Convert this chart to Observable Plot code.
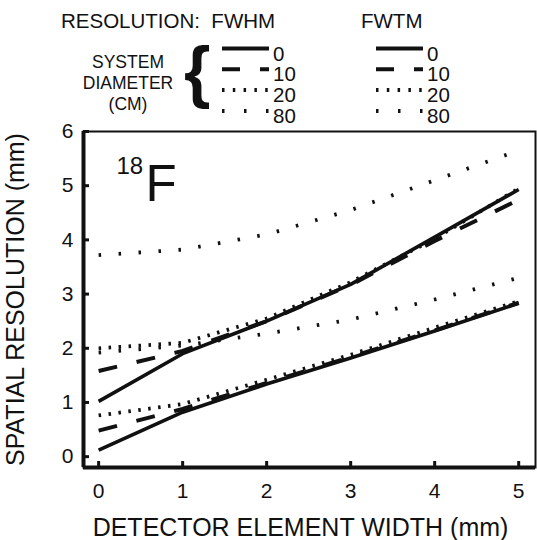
<!DOCTYPE html>
<html><head><meta charset="utf-8">
<script src="https://cdn.jsdelivr.net/npm/d3@7"></script>
<script src="https://cdn.jsdelivr.net/npm/@observablehq/plot@0.6"></script>
<style>
body{margin:0;background:#fff;}
#wrap{position:relative;width:537px;height:540px;font-family:"Liberation Sans",Arial,Helvetica,sans-serif;}
#wrap svg{position:absolute;left:0;top:0;}
</style></head><body><div id="wrap"></div>
<script>
// ---- data ----
const detectorWidth = [0, 1, 2, 3, 4, 5];
const diameterLabels = ["0", "10", "20", "80"];
const fwhm0  = [0.12, 0.82, 1.34, 1.82, 2.32, 2.83];
const fwhm10 = [0.48, 0.88, 1.36, 1.84, 2.33, 2.84];
const fwhm20 = [0.76, 0.97, 1.42, 1.88, 2.38, 2.87];
const fwhm80 = [1.92, 2.05, 2.27, 2.53, 2.90, 3.30];
const fwtm0  = [1.02, 1.90, 2.50, 3.18, 4.05, 4.93];
const fwtm10 = [1.58, 1.95, 2.50, 3.17, 3.98, 4.74];
const fwtm20 = [2.00, 2.10, 2.55, 3.22, 4.02, 4.95];
const fwtm80 = [3.72, 3.82, 4.10, 4.55, 5.10, 5.65];
const xTicks = [0, 1, 2, 3, 4, 5];
const yTicks = [0, 1, 2, 3, 4, 5, 6];
const resolutionLabels = ["FWHM", "FWTM"];
const xLabel = "DETECTOR ELEMENT WIDTH (mm)";
const yLabel = "SPATIAL RESOLUTION (mm)";

// ---- styles ----
const FONT = '"Liberation Sans", Arial, Helvetica, sans-serif';
const INK = "#111";
const W = 537, H = 540, ML = 83, MR = 2, MT = 131, MB = 73;
const plotW = W - ML - MR, plotH = H - MT - MB;
const TICK = 6;
const styleFor = {
  "0":  {dash: null, w: 3.6},
  "10": {dash: "19,20", w: 4},
  "20": {dash: "2.5,7.5", w: 3.8},
  "80": {dash: "2.5,17.5", w: 3.8}
};
const series = [
  ["FWHM", "0", fwhm0], ["FWHM", "10", fwhm10], ["FWHM", "20", fwhm20], ["FWHM", "80", fwhm80],
  ["FWTM", "0", fwtm0], ["FWTM", "10", fwtm10], ["FWTM", "20", fwtm20], ["FWTM", "80", fwtm80]
];
const xDomain = [-0.18, 5.2];
const yDomain = [-0.2, 6];
const intFmt = d3.format("d");

const lineMarks = series.map(([res, dia, vals]) =>
  Plot.line(detectorWidth.map((x, i) => ({x, y: vals[i]})), {
    x: "x", y: "y", stroke: INK,
    strokeWidth: styleFor[dia].w,
    strokeDasharray: styleFor[dia].dash || undefined,
    strokeLinecap: "butt"
  })
);

const chart = Plot.plot({
  width: W, height: H,
  marginLeft: ML, marginRight: MR, marginTop: MT, marginBottom: MB,
  style: {fontFamily: FONT, fontSize: "21px", color: INK, background: "transparent"},
  x: {domain: xDomain},
  y: {domain: yDomain},
  marks: [
    Plot.frame({stroke: INK, strokeWidth: 2}),
    Plot.ruleX([xDomain[0]], {stroke: INK, strokeWidth: 4}),
    Plot.ruleY([yDomain[0]], {stroke: INK, strokeWidth: 4}),
    Plot.axisX(xTicks, {tickSize: 0, tickPadding: 16, tickFormat: intFmt, fontSize: 21, label: xLabel, labelAnchor: "center", labelOffset: 68, labelArrow: "none"}),
    Plot.axisY(yTicks, {tickSize: 0, tickPadding: 10, tickFormat: intFmt, fontSize: 21, label: yLabel, labelAnchor: "center", labelOffset: 77, labelArrow: "none"}),
    // inward tick marks
    Plot.tickX(xTicks, {x: d => d, insetTop: plotH - TICK, stroke: INK, strokeWidth: 3}),
    Plot.tickY(yTicks, {y: d => d, insetRight: plotW - TICK, stroke: INK, strokeWidth: 3}),
    ...lineMarks,
    Plot.text(["18"], {text: d => d, frameAnchor: "top-left", textAnchor: "start", lineAnchor: "bottom", dx: 33, dy: 42, fontSize: 24, fill: INK}),
    Plot.text(["F"], {text: d => d, frameAnchor: "top-left", textAnchor: "start", lineAnchor: "bottom", dx: 62, dy: 69, fontSize: 51, fill: INK})
  ]
});
document.getElementById("wrap").appendChild(chart);

// axis label font size and small shift
d3.select(chart).selectAll("[aria-label='x-axis label'] text")
  .attr("font-size", 25).attr("transform", function() {
    const t = d3.select(this).attr("transform") || "";
    return "translate(-9,0) " + t;
  });
d3.select(chart).selectAll("[aria-label='y-axis label'] text")
  .attr("font-size", 25);

// ---- legend (drawn above the plot) ----
const leg = d3.select("#wrap").append("svg")
  .attr("width", W).attr("height", 130)
  .style("font-family", FONT).style("fill", INK);

leg.append("text").attr("x", 61).attr("y", 28).attr("font-size", 20.5)
  .text("RESOLUTION:\u00A0\u00A0" + resolutionLabels[0]);
leg.append("text").attr("x", 361).attr("y", 28).attr("font-size", 20.5)
  .text(resolutionLabels[1]);

const sysLines = ["SYSTEM", "DIAMETER", "(CM)"];
sysLines.forEach((t, i) => {
  leg.append("text").attr("x", 128).attr("y", 68 + i * 21).attr("font-size", 17.5)
    .attr("text-anchor", "middle").text(t);
});
leg.append("text").attr("x", 184).attr("y", 95).attr("font-size", 68)
  .attr("font-weight", "bold").text("{");

const legStyle = {
  "0":  {dash: null, w: 4},
  "10": {dash: "18,20", w: 4},
  "20": {dash: "2.5,8.3", w: 4},
  "80": {dash: "2.5,19.5", w: 4}
};
const groupX = [222, 376];
resolutionLabels.forEach((res, g) => {
  diameterLabels.forEach((dia, i) => {
    const yLine = 48.5 + i * 20.8;
    const x0 = groupX[g];
    leg.append("line").attr("x1", x0).attr("x2", x0 + 47)
      .attr("y1", yLine).attr("y2", yLine)
      .attr("stroke", INK).attr("stroke-width", legStyle[dia].w)
      .attr("stroke-dasharray", legStyle[dia].dash);
    leg.append("text").attr("x", x0 + 51).attr("y", yLine + 12)
      .attr("font-size", 20.5).text(dia);
  });
});
</script></body></html>
